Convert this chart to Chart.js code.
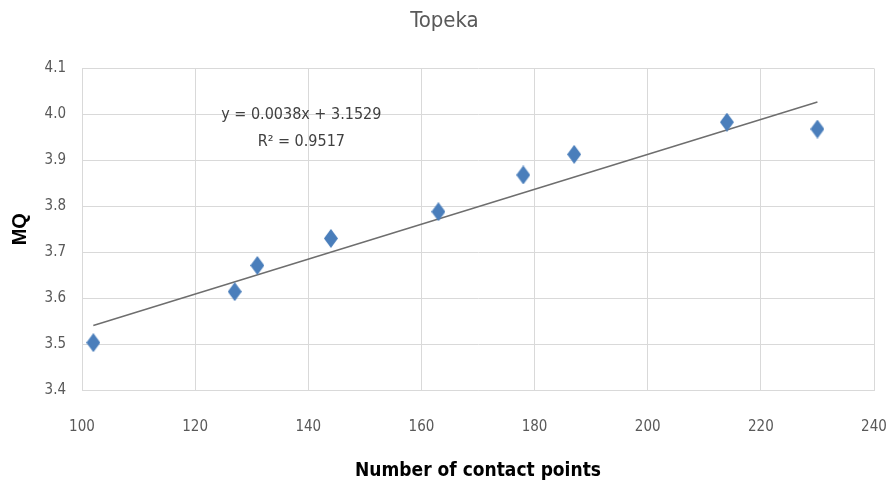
<!DOCTYPE html>
<html>
<head>
<meta charset="utf-8">
<script src="https://cdn.jsdelivr.net/npm/chart.js@4"></script>
<style>
  html, body { margin: 0; padding: 0; background: #fff; }
  #wrap { width: 889px; height: 494px; }
</style>
</head>
<body>
<div id="wrap"><canvas id="chart" width="889" height="494"></canvas></div>
<script>
const contactPoints = [102, 127, 131, 144, 163, 178, 187, 214, 230];
const mqValues = [3.503, 3.614, 3.671, 3.730, 3.788, 3.868, 3.913, 3.983, 3.968];
const slope = 0.0038;
const intercept = 3.1529;
const rSquared = 0.9517;
const trendX = [102, 230];

const narrow = '"DejaVu Sans Condensed", "Liberation Sans Narrow", "Liberation Sans", sans-serif';

// tall diamond marker, like the stretched Excel one
const diamond = document.createElement('canvas');
diamond.width = 14;
diamond.height = 19;
const dctx = diamond.getContext('2d');
dctx.fillStyle = '#4a7ebb';
dctx.beginPath();
dctx.moveTo(7, 0);
dctx.lineTo(14, 9.5);
dctx.lineTo(7, 19);
dctx.lineTo(0, 9.5);
dctx.closePath();
dctx.fill();

const equationLabel = {
  id: 'equationLabel',
  afterDatasetsDraw(chart) {
    const { ctx, scales } = chart;
    const x = scales.x.getPixelForValue(140);
    const y = scales.y.getPixelForValue(4.0);
    ctx.save();
    ctx.fillStyle = '#404040';
    ctx.font = '16px ' + narrow;
    ctx.textAlign = 'center';
    ctx.textBaseline = 'middle';
    ctx.fillText('y = ' + slope.toFixed(4) + 'x + ' + intercept.toFixed(4), x - 7, y + 1);
    ctx.fillText('R\u00b2 = ' + rSquared.toFixed(4), x - 7, y + 28);
    ctx.restore();
  },
};

new Chart(document.getElementById('chart'), {
  type: 'scatter',
  data: {
    datasets: [
      {
        label: 'MQ',
        data: contactPoints.map((x, i) => ({ x, y: mqValues[i] })),
        pointStyle: diamond,
        pointRadius: 9,
        pointHoverRadius: 9,
        backgroundColor: '#4a7ebb',
        borderWidth: 0,
      },
      {
        label: 'Linear',
        type: 'line',
        data: trendX.map((x) => ({ x, y: slope * x + intercept })),
        borderColor: '#6e6e6e',
        borderWidth: 1.5,
        pointRadius: 0,
        fill: false,
      },
    ],
  },
  options: {
    responsive: false,
    animation: false,
    layout: { padding: { left: 0, right: 0, top: 0, bottom: 0 } },
    plugins: {
      legend: { display: false },
      tooltip: { enabled: false },
      title: {
        display: true,
        text: 'Topeka',
        color: '#595959',
        font: { size: 22, family: narrow, weight: 'normal' },
        padding: { top: 8, bottom: 34 },
      },
    },
    scales: {
      x: {
        type: 'linear',
        min: 100,
        max: 240,
        ticks: { stepSize: 20, color: '#595959', font: { size: 15, family: narrow }, padding: 28 },
        grid: { color: '#d9d9d9', drawTicks: false },
        border: { color: '#d9d9d9' },
        title: {
          display: true,
          text: 'Number of contact points',
          color: '#000',
          font: { size: 19, family: narrow, weight: 'bold' },
          padding: { top: 0, bottom: 12 },
        },
        afterFit(scale) {
          scale.height = 104;
          scale.paddingRight = 15;
          scale.paddingLeft = 0;
        },
      },
      y: {
        min: 3.4,
        max: 4.1,
        ticks: {
          stepSize: 0.1,
          color: '#595959',
          font: { size: 15, family: narrow },
          padding: 16,
          callback: (v) => v.toFixed(1),
        },
        grid: { color: '#d9d9d9', drawTicks: false },
        border: { color: '#d9d9d9' },
        title: {
          display: true,
          text: 'MQ',
          color: '#000',
          font: { size: 20, family: '"Liberation Sans", Arial, sans-serif', weight: 'bold' },
          padding: { top: 8, bottom: 0 },
        },
        afterFit(scale) { scale.width = 82; },
      },
    },
  },
  plugins: [equationLabel],
});
</script>
</body>
</html>
